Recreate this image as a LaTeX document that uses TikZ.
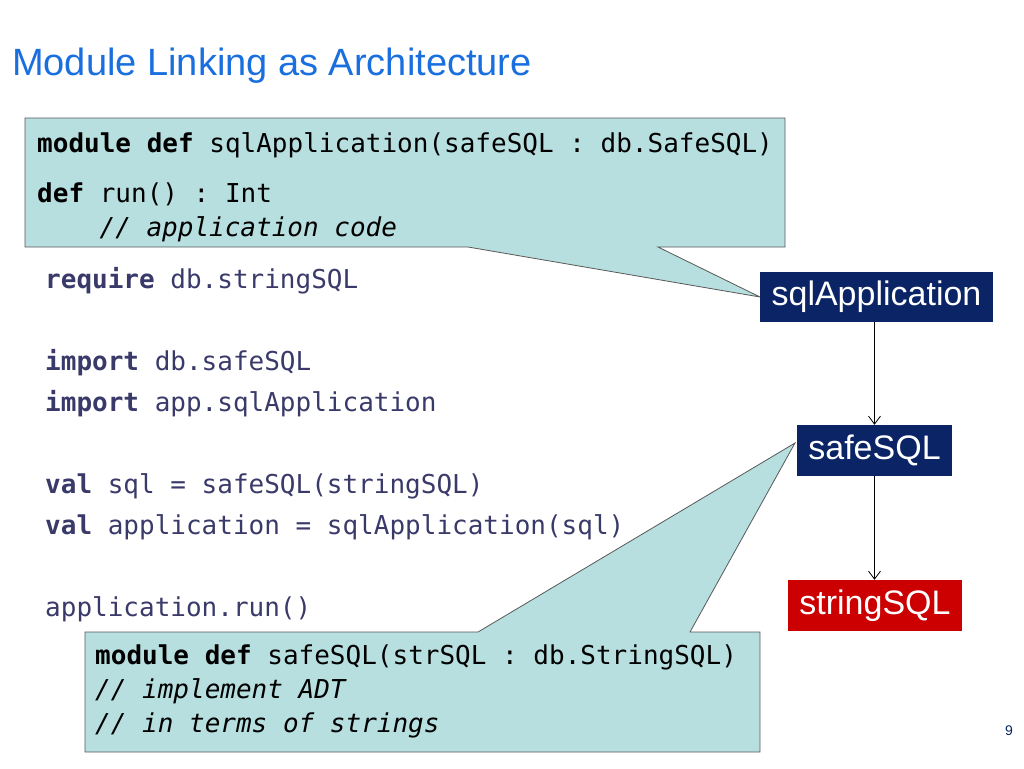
\documentclass[tikz,border=0pt]{standalone}
\usepackage{fontspec}
\setmainfont{Liberation Sans}
\setmonofont{DejaVu Sans Mono}
\usetikzlibrary{arrows.meta}
\usetikzlibrary{positioning}
\definecolor{titleblue}{HTML}{1A6FDF}
\definecolor{codeink}{HTML}{3A3A6A}
\definecolor{calloutfill}{HTML}{B7DFE0}
\definecolor{boxnavy}{HTML}{0A2466}
\definecolor{boxred}{HTML}{CC0000}
\tikzset{
  code/.style={anchor=base west, inner sep=0pt, text=codeink, font=\fontsize{26}{26}\ttfamily},
  bubble/.style={fill=calloutfill, draw=gray!70!black, line width=0.8pt},
  modbox/.style={draw=none, text=white, font=\fontsize{34}{34}\selectfont, inner sep=0pt},
}
\begin{document}
\begin{tikzpicture}[x=1pt,y=-1pt]
	\useasboundingbox (0,0) rectangle (1024,768);
	\node[anchor=west, text=titleblue, font=\fontsize{38}{38}\selectfont, inner sep=0pt] (title) at (12,66) {Module Linking as Architecture};

	% callouts
	\coordinate (tipA) at (760,297);
	\coordinate (tipB) at (795,443);
	\draw[bubble] (25,118) -- (785,118) -- (785,247) -- (658,247) -- (tipA) -- (468,247) -- (25,247) -- cycle;
	\draw[bubble] (85,632) -- (478,632) -- (tipB) -- (690,632) -- (760,632) -- (760,752) -- (85,752) -- cycle;

	\node[code, text=black] (c1) at (37,152) {\textbf{module def} sqlApplication(safeSQL : db.SafeSQL)};
	\node[code, text=black] (c2) at (37,202) {\textbf{def} run() : Int};
	\node[code, text=black] (c3) at (37,236) {\hspace{2.4em}\textit{// application code}};
	\node[code, text=black] (c4) at (95,664) {\textbf{module def} safeSQL(strSQL : db.StringSQL)};
	\node[code, text=black] (c5) at (95,698) {\textit{// implement ADT}};
	\node[code, text=black] (c6) at (95,732) {\textit{// in terms of strings}};

	% main code
	\node[code] (l1) at (45,288) {\textbf{require} db.stringSQL};
	\node[code] (l2) at (45,370) {\textbf{import} db.safeSQL};
	\node[code] (l3) at (45,411) {\textbf{import} app.sqlApplication};
	\node[code] (l4) at (45,493) {\textbf{val} sql = safeSQL(stringSQL)};
	\node[code] (l5) at (45,534) {\textbf{val} application = sqlApplication(sql)};
	\node[code] (l6) at (45,616) {application.run()};

	% modules
	\node[modbox, fill=boxnavy, minimum width=233pt, minimum height=50pt] (app) at (876.5,297) {sqlApplication};
	\node[modbox, fill=boxnavy, minimum width=155pt, minimum height=51pt] (safe) at (874.5,450.5) {safeSQL};
	\node[modbox, fill=boxred, minimum width=174pt, minimum height=51pt] (str) at (875,605.5) {stringSQL};
	\draw[-{Straight Barb[length=8pt,width=12pt]}, line width=0.8pt] (app.south -| safe) -- (safe.north);
	\draw[-{Straight Barb[length=8pt,width=12pt]}, line width=0.8pt] (safe.south) -- (str.north -| safe);

	\node[text=boxnavy, font=\fontsize{14}{14}\selectfont, inner sep=0pt] (page) at (1009,731) {9};
\end{tikzpicture}
\end{document}
